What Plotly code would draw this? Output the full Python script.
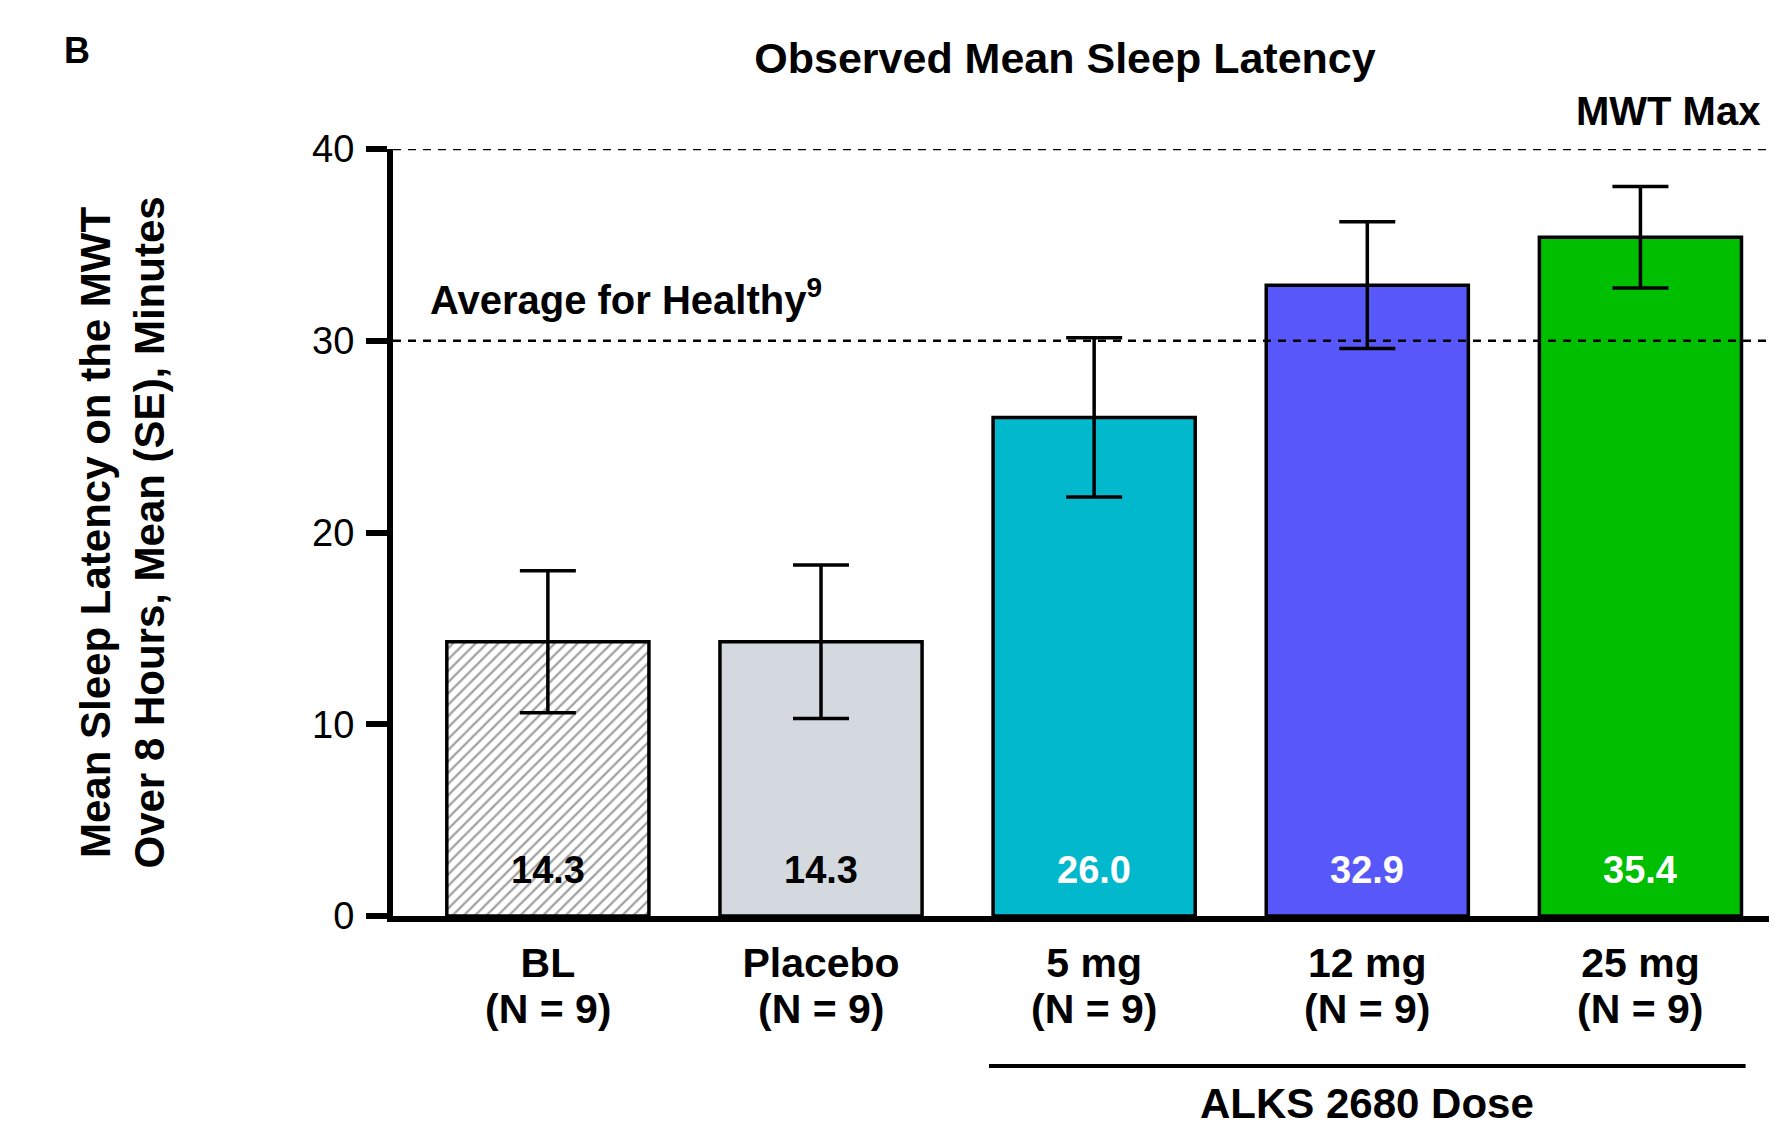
import plotly.graph_objects as go

categories = ["BL", "Placebo", "5 mg", "12 mg", "25 mg"]
n_labels = ["(N = 9)", "(N = 9)", "(N = 9)", "(N = 9)", "(N = 9)"]
means = [14.3, 14.3, 26.0, 32.9, 35.4]
se = [3.7, 4.0, 4.15, 3.3, 2.65]
value_text = ["14.3", "14.3", "26.0", "32.9", "35.4"]
bar_colors = ["#FFFFFF", "#D3D9DF", "#02B8CC", "#5858FA", "#00BE00"]
text_colors = ["#000000", "#000000", "#FFFFFF", "#FFFFFF", "#FFFFFF"]
patterns = ["/", "", "", "", ""]
y_ticks = [0, 10, 20, 30, 40]
ref_lines = [40, 30]

FONT = "Liberation Sans, Arial, sans-serif"
xs = list(range(len(categories)))

fig = go.Figure()
fig.add_trace(go.Bar(
    x=xs, y=means, width=0.74,
    marker=dict(
        color=bar_colors,
        line=dict(color="black", width=3.5),
        pattern=dict(shape=patterns, fgcolor="#C8C8C8", bgcolor="#FFFFFF",
                     size=8, solidity=0.28, fillmode="overlay"),
    ),
    error_y=dict(type="data", array=se, visible=True, color="black",
                 thickness=3.5, width=28),
    hoverinfo="skip",
))

annotations = []
for i, (t, c) in enumerate(zip(value_text, text_colors)):
    annotations.append(dict(x=i, y=2.4, xref="x", yref="y", text="<b>%s</b>" % t,
                            showarrow=False, font=dict(family=FONT, size=38, color=c),
                            yanchor="middle"))
for i, n in enumerate(n_labels):
    annotations.append(dict(x=i, y=-0.121, xref="x", yref="paper", text="<b>%s</b>" % n,
                            showarrow=False, font=dict(family=FONT, size=41, color="black"),
                            yanchor="middle"))
annotations += [
    dict(x=3, y=-0.2445, xref="x", yref="paper", text="<b>ALKS 2680 Dose</b>",
         showarrow=False, font=dict(family=FONT, size=42, color="black"), yanchor="middle"),
    dict(x=0.989, y=1.0495, xref="paper", yref="paper", text="<b>MWT Max</b>",
         showarrow=False, font=dict(family=FONT, size=40, color="black"),
         xanchor="right", yanchor="middle"),
    dict(x=0.0253, y=32.3, xref="paper", yref="y", text="<b>Average for Healthy<sup>9</sup></b>",
         showarrow=False, font=dict(family=FONT, size=40, color="black"),
         xanchor="left", yanchor="middle"),
    dict(x=-0.2283, y=1.1278, xref="paper", yref="paper", text="<b>B</b>",
         showarrow=False, font=dict(family=FONT, size=36, color="black"),
         xanchor="center", yanchor="middle"),
    dict(x=-0.1958, y=0.5, xref="paper", yref="paper",
         text="<b>Mean Sleep Latency on the MWT<br>Over 8 Hours, Mean (SE), Minutes</b>",
         showarrow=False, textangle=-90, font=dict(family=FONT, size=42, color="black"),
         xanchor="center", yanchor="middle"),
]

shapes = []
for v in ref_lines:
    shapes.append(dict(type="line", xref="paper", yref="y", x0=0, x1=1, y0=v, y1=v,
                       line=dict(color="black", width=2.5, dash="8px,7px"), layer="above"))
shapes.append(dict(type="line", xref="x", yref="paper", x0=2 - 0.385, x1=4 + 0.385,
                   y0=-0.1956, y1=-0.1956, line=dict(color="black", width=4)))

fig.update_layout(
    width=1769, height=1119,
    margin=dict(l=385, r=0, t=141, b=211),
    paper_bgcolor="white", plot_bgcolor="white",
    showlegend=False,
    title=dict(text="<b>Observed Mean Sleep Latency</b>", x=0.5975, xref="container",
               y=1 - 50 / 1119, yref="container", xanchor="center", yanchor="middle",
               font=dict(family=FONT, size=43, color="black")),
    xaxis=dict(range=[-0.567, 4.5], tickmode="array", tickvals=xs, ticktext=["<b>%s</b>" % c for c in categories],
               tickfont=dict(family=FONT, size=41, color="black"),
               showline=True, linecolor="black", linewidth=6, ticks="",
               showgrid=False, zeroline=False, ticklabelstandoff=6, fixedrange=True),
    yaxis=dict(range=[0, 40], tickmode="array", tickvals=y_ticks,
               tickfont=dict(family=FONT, size=38, color="black"),
               showline=True, linecolor="black", linewidth=6,
               ticks="outside", ticklen=21, tickwidth=6, tickcolor="black",
               showgrid=False, zeroline=False, ticklabelstandoff=4, fixedrange=True),
    annotations=annotations,
    shapes=shapes,
)

fig.write_html("out.html")
